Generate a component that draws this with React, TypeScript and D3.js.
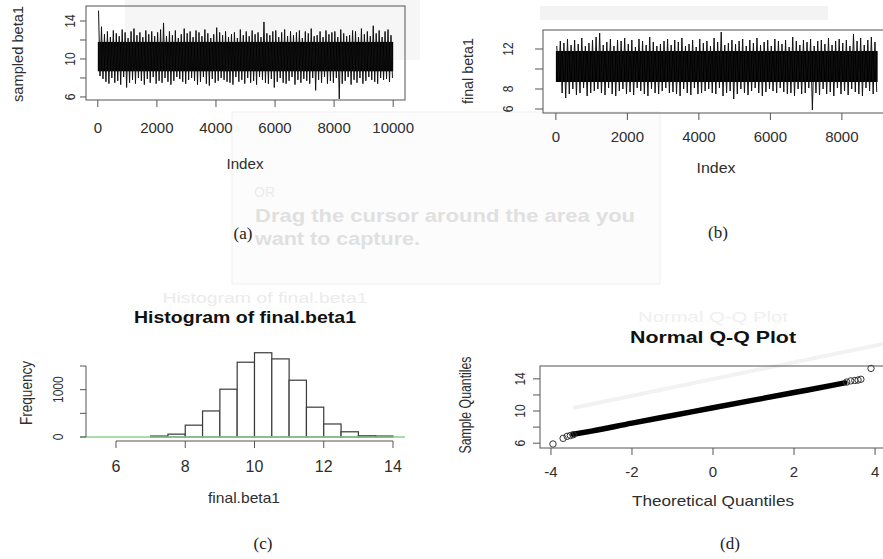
import React from "react";
import * as d3 from "d3";

// ---------- (a) trace of sampled.beta1 (per-100-iteration extremes)
const traceABin = 100;
const traceAHigh = [
  15.1, 13.4, 12.6, 12.9, 12.3, 13.0, 12.7, 12.4, 13.1, 12.8,
  12.2, 12.9, 13.2, 12.5, 12.8, 12.3, 13.0, 12.6, 12.9, 12.4,
  12.8, 13.1, 13.8, 12.4, 12.9, 12.5, 13.0, 12.2, 12.6, 13.2,
  12.7, 12.9, 12.3, 13.0, 12.8, 12.4, 13.1, 12.7, 12.2, 12.6,
  13.3, 12.8, 12.5, 12.9, 12.3, 12.6, 12.8, 12.2, 13.1, 12.5,
  12.9, 12.4, 13.0, 12.6, 12.8, 12.3, 13.9, 12.7, 12.5, 12.9,
  13.0, 12.3, 12.8, 13.1, 12.4, 12.9, 12.5, 12.8, 13.0, 12.2,
  12.9, 12.7, 13.2, 12.4, 12.5, 12.9, 12.3, 13.0, 12.6, 12.8,
  12.9, 12.3, 13.1, 12.7, 12.4, 12.5, 13.0, 12.9, 12.3, 13.2,
  12.6, 12.9, 12.4, 13.5, 12.7, 13.0, 12.3, 12.9, 13.1, 12.5,
];
const traceALow = [
  8.2, 7.9, 7.6, 7.4, 8.0, 7.5, 7.7, 7.3, 8.1, 7.0,
  7.5, 7.8, 7.4, 8.0, 7.7, 7.3, 7.9, 7.5, 8.1, 7.4,
  7.7, 7.5, 8.0, 7.6, 7.3, 7.7, 8.1, 7.9, 7.6, 7.4,
  7.8, 8.0, 7.7, 7.3, 7.6, 8.1, 7.4, 7.2, 7.9, 7.5,
  7.7, 8.0, 7.8, 7.6, 7.5, 7.3, 8.1, 7.6, 7.8, 7.4,
  8.0, 7.5, 7.7, 7.3, 8.1, 7.8, 7.5, 7.4, 7.9, 7.0,
  7.6, 8.0, 7.5, 7.4, 7.7, 8.1, 7.3, 7.8, 7.5, 7.9,
  7.7, 7.4, 8.0, 6.7, 7.8, 7.5, 8.1, 7.4, 7.7, 7.5,
  8.0, 5.8, 7.4, 7.7, 8.1, 7.3, 7.8, 7.5, 8.0, 7.4,
  7.7, 8.1, 7.8, 7.6, 7.4, 8.0, 7.8, 7.9, 7.6, 8.0,
];
const traceACore = [8.7, 11.8];
const traceATicksX = [0, 2000, 4000, 6000, 8000, 10000];
const traceATicksY = [6, 8, 10, 12, 14];
const traceALabelsY = [6, 10, 14];

// ---------- (b) trace of final.beta1
const traceBBin = 100;
const traceBHigh = [
  12.3, 12.8, 12.6, 13.0, 12.4, 12.9, 12.5, 13.1, 12.3, 12.6,
  12.9, 13.2, 13.6, 12.4, 12.7, 13.0, 12.3, 12.9, 12.8, 13.1,
  12.5, 12.9, 12.2, 13.0, 12.8, 12.4, 13.2, 12.7, 12.3, 12.5,
  12.8, 13.0, 12.4, 12.9, 12.7, 13.1, 12.3, 12.5, 12.9, 12.2,
  13.0, 12.6, 12.8, 12.3, 13.1, 12.7, 13.7, 12.4, 12.6, 12.9,
  12.5, 12.8, 13.0, 12.3, 12.9, 12.6, 13.1, 12.4, 12.7, 12.9,
  12.3, 13.0, 12.8, 12.5, 12.9, 12.2, 13.2, 12.8, 12.4, 12.9,
  12.7, 13.0, 12.3, 12.8, 12.9, 12.5, 13.1, 12.4, 12.8, 13.0,
  12.6, 12.9, 12.3, 13.5, 12.8, 13.1, 12.4, 12.9, 13.2, 12.7,
];
const traceBLow = [
  9.0, 7.6, 7.1, 7.5, 8.0, 7.4, 7.6, 8.1, 7.3, 7.6,
  7.8, 8.0, 7.6, 7.4, 8.1, 7.5, 7.3, 7.8, 8.0, 7.5,
  7.7, 7.4, 8.1, 7.8, 7.5, 7.3, 8.0, 7.6, 7.5, 7.8,
  8.1, 7.6, 7.7, 7.5, 7.3, 8.0, 7.6, 7.4, 8.1, 7.5,
  7.6, 7.8, 8.0, 7.6, 7.5, 8.1, 7.3, 7.6, 7.8, 7.0,
  7.5, 8.0, 7.6, 7.4, 7.8, 8.1, 7.6, 7.3, 7.7, 8.0,
  7.8, 7.6, 8.1, 7.7, 7.5, 7.6, 7.3, 8.0, 7.5, 7.6,
  8.1, 5.9, 7.6, 7.4, 8.0, 7.5, 7.7, 7.3, 8.1, 7.5,
  7.8, 7.4, 8.0, 7.7, 7.5, 7.3, 8.1, 7.8, 7.5, 7.7,
];
const traceBCore = [8.7, 11.8];
const traceBTicksX = [0, 2000, 4000, 6000, 8000];
const traceBTicksY = [6, 8, 10, 12];
const traceBLabelsY = [6, 8, 12];

// ---------- (c) histogram
const histBreaks = [7, 7.5, 8, 8.5, 9, 9.5, 10, 10.5, 11, 11.5, 12, 12.5, 13, 13.5, 14];
const histCounts = [20, 60, 250, 550, 1010, 1580, 1780, 1650, 1200, 630, 275, 110, 25, 20];
const histTicksX = [6, 8, 10, 12, 14];
const histTicksY = [0, 500, 1000, 1500];
const histLabelsY = [0, 1000];

// ---------- (d) normal Q-Q plot
const qqTailTheo = [-3.95, -3.7, -3.6, -3.52, -3.45, 3.3, 3.4, 3.5, 3.58, 3.65, 3.9];
const qqTailSample = [5.9, 6.6, 6.85, 6.95, 7.05, 13.6, 13.75, 13.8, 13.85, 13.95, 15.3];
const qqBodyTheo = [-3.45, -3, -2, -1, 0, 1, 2, 3, 3.25];
const qqBodySample = [7.1, 7.5, 8.5, 9.45, 10.4, 11.35, 12.3, 13.25, 13.5];
const qqTicksX = [-4, -2, 0, 2, 4];
const qqTicksY = [6, 8, 10, 12, 14];
const qqLabelsY = [6, 10, 14];

const SANS = "'Liberation Sans', Arial, Helvetica, sans-serif";
const SERIF = "'Liberation Serif', 'Times New Roman', serif";
const INK = "#2e2e2e";
const AXIS = "#555";

type TProps = {
  x: number; y: number; text: string; size: number; rotate?: boolean; bold?: boolean;
  len?: number; fill?: string; anchor?: string; family?: string;
};
function T({ x, y, text, size, rotate, bold, len, fill, anchor, family }: TProps) {
  return (
    <text
      x={x}
      y={y}
      dy="0.35em"
      fontSize={size}
      fontFamily={family || SANS}
      fontWeight={bold ? "bold" : "normal"}
      fill={fill || INK}
      textAnchor={anchor || "middle"}
      transform={rotate ? `rotate(-90 ${x} ${y})` : undefined}
      textLength={len}
      lengthAdjust={len ? "spacingAndGlyphs" : undefined}
    >
      {text}
    </text>
  );
}

function RT({ x, y, v }: { x: number; y: number; v: number }) {
  const s = String(v);
  return <T x={x} y={y} text={s} size={15} rotate len={s.length * 0.556 * 15 * 0.8} />;
}

// connected trace: each bin's chain goes up to its high, then down to its low
function Trace({ high, low, bin, x, y }: { high: number[]; low: number[]; bin: number; x: any; y: any }) {
  const pts: [number, number][] = [];
  high.forEach((h, i) => {
    pts.push([x(i * bin + bin * 0.25), y(h)]);
    pts.push([x(i * bin + bin * 0.75), y(low[i])]);
  });
  return <path d={d3.line()(pts) || ""} fill="none" stroke="#111" strokeWidth={1} />;
}

export default function App() {
  const xA = d3.scaleLinear().domain([-400, 10400]).range([86, 405]);
  const yA = d3.scaleLinear().domain([5.68, 15.58]).range([100, 6]);
  const nA = traceAHigh.length * traceABin;
  const xB = d3.scaleLinear().domain([-360, 9360]).range([543, 890.5]);
  const yB = d3.scaleLinear().domain([5.6, 13.9]).range([113, 30]);
  const nB = traceBHigh.length * traceBBin;
  const xH = d3.scaleLinear().domain([6, 14]).range([116, 393]);
  const yH = d3.scaleLinear().domain([0, 1500]).range([437, 366]);
  const xQ = d3.scaleLinear().domain([-4.27, 4.27]).range([540, 886]);
  const yQ = d3.scaleLinear().domain([5.4, 15.6]).range([448, 366]);
  const qqLine = d3.line<number>()
    .x((_, i) => xQ(qqBodyTheo[i]))
    .y((d) => yQ(d))
    .curve(d3.curveMonotoneX);

  return (
    <svg width={883} height={559} style={{ position: "absolute", left: 0, top: 0, background: "#fff" }}>
      <rect width={883} height={559} fill="#fff" />
      {/* ghost screenshot overlay */}
      <rect x={125} y={0} width={295} height={60} fill="#f6f6f6" />
      <rect x={540} y={6} width={288} height={14} fill="#f3f3f3" />
      <rect x={232} y={112} width={428} height={172} fill="#fcfcfc" stroke="#f0f0f0" />
      <T x={254} y={192} text="OR" size={14} fill="#ebebeb" anchor="start" />
      <T x={255} y={215} text="Drag the cursor around the area you" size={19} bold len={380} fill="#e0e0e0" anchor="start" />
      <T x={255} y={238} text="want to capture." size={19} bold len={165} fill="#e0e0e0" anchor="start" />
      <T x={265} y={298} text="Histogram of final.beta1" size={14} fill="#ebebeb" len={205} />
      <T x={713} y={317} text="Normal Q-Q Plot" size={15} fill="#efefef" len={150} />
      <line x1={573} y1={408} x2={883} y2={344} stroke="#f2f2f2" strokeWidth={4} />

      {/* ===== (a) ===== */}
      <rect x={xA(0)} y={yA(traceACore[1])} width={xA(nA) - xA(0)} height={yA(traceACore[0]) - yA(traceACore[1])} fill="#000" />
      <Trace high={traceAHigh} low={traceALow} bin={traceABin} x={xA} y={yA} />
      <rect x={xA.range()[0]} y={yA.range()[1]} width={xA.range()[1] - xA.range()[0]} height={yA.range()[0] - yA.range()[1]} fill="none" stroke={AXIS} />
      {traceATicksX.map((t) => (
        <g key={"ax" + t}>
          <line x1={xA(t)} x2={xA(t)} y1={100} y2={107} stroke={AXIS} />
          <T x={xA(t)} y={128} text={String(t)} size={15} />
        </g>
      ))}
      {traceATicksY.map((t) => (
        <line key={"ay" + t} x1={80} x2={86} y1={yA(t)} y2={yA(t)} stroke={AXIS} />
      ))}
      {traceALabelsY.map((t) => <RT key={"ayl" + t} x={70} y={yA(t)} v={t} />)}
      <T x={245} y={164} text="Index" size={15} len={37} />
      <T x={18} y={54} text="sampled beta1" size={15} rotate len={96} />
      <T x={243} y={233} text="(a)" size={17} family={SERIF} fill="#222" />

      {/* ===== (b) ===== */}
      <rect x={xB(0)} y={yB(traceBCore[1])} width={xB(nB) - xB(0)} height={yB(traceBCore[0]) - yB(traceBCore[1])} fill="#000" />
      <Trace high={traceBHigh} low={traceBLow} bin={traceBBin} x={xB} y={yB} />
      <rect x={xB.range()[0]} y={yB.range()[1]} width={xB.range()[1] - xB.range()[0]} height={yB.range()[0] - yB.range()[1]} fill="none" stroke={AXIS} />
      {traceBTicksX.map((t) => (
        <g key={"bx" + t}>
          <line x1={xB(t)} x2={xB(t)} y1={113} y2={120} stroke={AXIS} />
          <T x={xB(t)} y={137} text={String(t)} size={15} />
        </g>
      ))}
      {traceBTicksY.map((t) => (
        <line key={"by" + t} x1={535} x2={543} y1={yB(t)} y2={yB(t)} stroke={AXIS} />
      ))}
      {traceBLabelsY.map((t) => <RT key={"byl" + t} x={508} y={yB(t)} v={t} />)}
      <T x={716} y={168} text="Index" size={15} len={39} />
      <T x={468} y={71} text="final beta1" size={15} rotate len={66} />
      <T x={718} y={232} text="(b)" size={17} family={SERIF} fill="#222" />

      {/* ===== (c) ===== */}
      <T x={245} y={317} text="Histogram of final.beta1" size={17} bold len={222} fill="#111" />
      {histCounts.map((c, i) => (
        <rect
          key={"h" + i}
          x={xH(histBreaks[i])}
          y={yH(c)}
          width={xH(histBreaks[i + 1]) - xH(histBreaks[i])}
          height={yH(0) - yH(c)}
          fill="#fff"
          stroke="#3a3a3a"
          strokeWidth={1.2}
        />
      ))}
      <line x1={80} x2={405} y1={yH(0)} y2={yH(0)} stroke="#8fcf8f" strokeWidth={1.5} />
      <line x1={xH(6)} x2={xH(14)} y1={441} y2={441} stroke={AXIS} />
      {histTicksX.map((t) => (
        <g key={"hx" + t}>
          <line x1={xH(t)} x2={xH(t)} y1={441} y2={448} stroke={AXIS} />
          <T x={xH(t)} y={466} text={String(t)} size={16} />
        </g>
      ))}
      <line x1={86} x2={86} y1={yH(0)} y2={yH(1500)} stroke={AXIS} />
      {histTicksY.map((t) => (
        <line key={"hy" + t} x1={80} x2={86} y1={yH(t)} y2={yH(t)} stroke={AXIS} />
      ))}
      {histLabelsY.map((t) => <RT key={"hyl" + t} x={58} y={yH(t)} v={t} />)}
      <T x={244} y={498} text="final.beta1" size={15} len={72} />
      <T x={26} y={393} text="Frequency" size={16} rotate len={64} />
      <T x={263} y={543} text="(c)" size={17} family={SERIF} fill="#222" />

      {/* ===== (d) ===== */}
      <T x={713} y={337} text="Normal Q-Q Plot" size={17} bold len={166} fill="#111" />
      <path d={qqLine(qqBodySample) || ""} fill="none" stroke="#000" strokeWidth={5.5} strokeLinecap="round" />
      {qqTailTheo.map((t, i) => (
        <circle key={"q" + i} cx={xQ(t)} cy={yQ(qqTailSample[i])} r={3.2} fill="none" stroke="#333" strokeWidth={1} />
      ))}
      <rect x={xQ.range()[0]} y={yQ.range()[1]} width={xQ.range()[1] - xQ.range()[0]} height={yQ.range()[0] - yQ.range()[1]} fill="none" stroke={AXIS} />
      {qqTicksX.map((t) => (
        <g key={"qx" + t}>
          <line x1={xQ(t)} x2={xQ(t)} y1={448} y2={455} stroke={AXIS} />
          <T x={xQ(t)} y={472} text={String(t)} size={15} />
        </g>
      ))}
      {qqTicksY.map((t) => (
        <line key={"qy" + t} x1={533} x2={540} y1={yQ(t)} y2={yQ(t)} stroke={AXIS} />
      ))}
      {qqLabelsY.map((t) => <RT key={"qyl" + t} x={520} y={yQ(t)} v={t} />)}
      <T x={713} y={501} text="Theoretical Quantiles" size={15} len={162} />
      <T x={465} y={405} text="Sample Quantiles" size={16} rotate len={97} />
      <T x={730} y={543} text="(d)" size={17} family={SERIF} fill="#222" />
    </svg>
  );
}
